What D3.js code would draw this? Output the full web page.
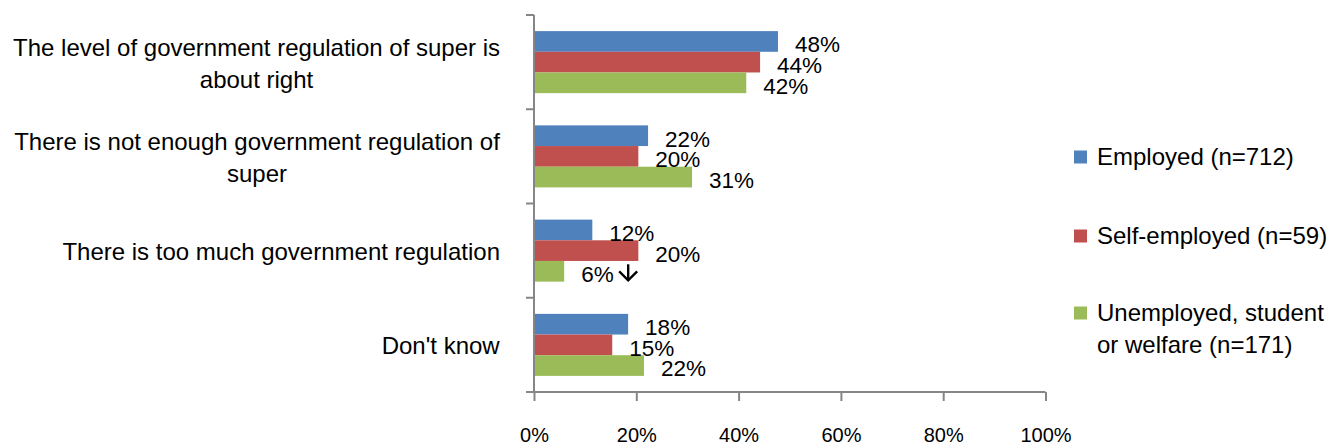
<!DOCTYPE html>
<html>
<head>
<meta charset="utf-8">
<script src="https://cdn.jsdelivr.net/npm/d3@7"></script>
<style>
  html, body { margin: 0; padding: 0; background: #fff; }
  svg { display: block; }
  text { font-family: "Liberation Sans", Arial, sans-serif; fill: #000; }
</style>
</head>
<body>
<svg id="chart" width="1332" height="447"></svg>
<script>
// ---- data ----
const categories = [
  ["The level of government regulation of super is", "about right"],
  ["There is not enough government regulation of", "super"],
  ["There is too much government regulation"],
  ["Don't know"]
];
const legendLabels = [["Employed (n=712)"], ["Self-employed (n=59)"], ["Unemployed, student", "or welfare (n=171)"]];
const employed     = [47.7, 22.3, 11.4, 18.4];
const selfEmployed = [44.2, 20.4, 20.4, 15.3];
const unemployed   = [41.5, 30.9, 5.9, 21.5];
const employedLabels     = ["48%", "22%", "12%", "18%"];
const selfEmployedLabels = ["44%", "20%", "20%", "15%"];
const unemployedLabels   = ["42%", "31%", "6%", "22%"];
const xTicks = [0, 20, 40, 60, 80, 100];
const colors = ["#4F81BD", "#C0504D", "#9BBB59"];

const series = [employed, selfEmployed, unemployed];
const seriesLabels = [employedLabels, selfEmployedLabels, unemployedLabels];

// ---- layout ----
const svg = d3.select("#chart");
const mLeft = 534, mRight = 1045.5, mTop = 15, mBottom = 392;
const FS = 24, FSD = 22.5, FST = 20;

const x = d3.scaleLinear().domain([0, 100]).range([mLeft, mRight]);
const y = d3.scaleBand().domain(d3.range(categories.length)).range([mTop, mBottom])
  .paddingInner(0.342).paddingOuter(0.171);
const ySub = d3.scaleBand().domain(d3.range(series.length)).range([0, y.bandwidth()]);

// bars
series.forEach((vals, si) => {
  svg.append("g").selectAll("rect").data(vals).join("rect")
    .attr("x", x(0))
    .attr("y", (d, i) => y(i) + ySub(si))
    .attr("width", d => x(d) - x(0))
    .attr("height", ySub.bandwidth())
    .attr("fill", colors[si]);
});

// data labels
series.forEach((vals, si) => {
  svg.append("g").selectAll("text").data(vals).join("text")
    .attr("x", d => x(d) + 17)
    .attr("y", (d, i) => y(i) + ySub(si) + ySub.bandwidth() / 2 + 3)
    .attr("dy", "0.35em")
    .attr("font-size", FSD)
    .text((d, i) => seriesLabels[si][i]);
});

// arrow annotation after the "6%" label
{
  const si = 2, ci = 2;
  const ax = x(series[si][ci]) + 17 + 47;
  const ay = y(ci) + ySub(si) + ySub.bandwidth() / 2 + 3;
  const g = svg.append("g").attr("stroke", "#000").attr("stroke-width", 2.4).attr("fill", "none")
    .attr("stroke-linejoin", "miter");
  g.append("line").attr("x1", ax).attr("x2", ax).attr("y1", ay - 10).attr("y2", ay + 6);
  g.append("path").attr("d", `M${ax - 9},${ay - 3} L${ax},${ay + 6} L${ax + 9},${ay - 3}`);
}

// y axis
const yAxisG = svg.append("g");
yAxisG.append("line").attr("x1", mLeft).attr("x2", mLeft).attr("y1", mTop).attr("y2", mBottom)
  .attr("stroke", "#868686").attr("stroke-width", 2);
const yTickPos = d3.range(categories.length + 1).map(i => mTop + i * y.step());
yAxisG.selectAll("line.tk").data(yTickPos).join("line").attr("class", "tk")
  .attr("x1", mLeft - 8).attr("x2", mLeft).attr("y1", d => d).attr("y2", d => d)
  .attr("stroke", "#868686").attr("stroke-width", 2);

// x axis
const xAxis = d3.axisBottom(x).tickValues(xTicks).tickFormat(d => d + "%").tickSize(9);
const xg = svg.append("g").attr("transform", `translate(0,${mBottom})`).call(xAxis);
xg.select(".domain").attr("stroke", "#868686").attr("stroke-width", 2).attr("d", `M${mLeft - 8},0H${mRight}`);
xg.selectAll(".tick line").attr("stroke", "#868686").attr("stroke-width", 2);
xg.selectAll(".tick text").attr("font-size", FST).attr("font-family", "Liberation Sans, Arial, sans-serif")
  .attr("fill", "#000").attr("dy", null).attr("y", 50);

// category labels
const lineH = 32;
categories.forEach((lines, i) => {
  const cy = y(i) + y.bandwidth() / 2 + 1;
  const t = svg.append("text").attr("text-anchor", "middle").attr("font-size", FS);
  const n = lines.length;
  lines.forEach((ln, k) => {
    t.append("tspan").attr("x", 0).attr("y", cy + (k - (n - 1) / 2) * lineH).attr("dy", "0.35em").text(ln);
  });
  const w = t.node().getBBox().width;
  t.selectAll("tspan").attr("x", 500 - w / 2);
});

// legend
const legendRowsY = [157, 236, 313];
legendLabels.forEach((lines, i) => {
  const g = svg.append("g");
  g.append("rect").attr("x", 1074).attr("y", legendRowsY[i] - 6.5).attr("width", 13).attr("height", 13).attr("fill", colors[i]);
  lines.forEach((ln, k) => {
    g.append("text").attr("x", 1097).attr("y", legendRowsY[i] + k * lineH).attr("dy", "0.35em")
      .attr("font-size", FS).text(ln);
  });
});
</script>
</body>
</html>
